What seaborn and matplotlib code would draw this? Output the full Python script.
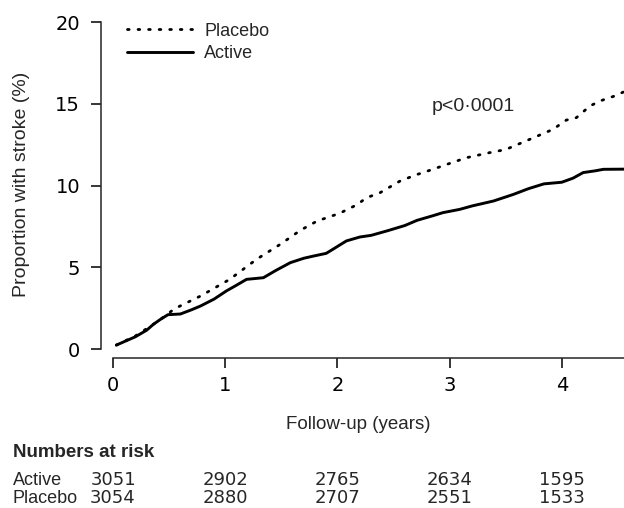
import matplotlib
matplotlib.use("Agg")
import matplotlib.pyplot as plt
import matplotlib.transforms as mtransforms
import seaborn as sns
import pandas as pd
from matplotlib.lines import Line2D

# curves (years, % with stroke)
active_t = [0.03, 0.10, 0.20, 0.30, 0.36, 0.42, 0.49, 0.60, 0.70, 0.78, 0.90, 1.01,
            1.10, 1.19, 1.34, 1.45, 1.58, 1.70, 1.79, 1.90, 1.96, 2.03, 2.08, 2.20,
            2.30, 2.44, 2.60, 2.71, 2.85, 2.94, 3.09, 3.20, 3.39, 3.50, 3.57, 3.70,
            3.84, 4.00, 4.10, 4.19, 4.30, 4.37, 4.56]
active_y = [0.24, 0.45, 0.75, 1.15, 1.51, 1.80, 2.10, 2.14, 2.40, 2.63, 3.05, 3.55,
            3.90, 4.26, 4.36, 4.80, 5.28, 5.55, 5.69, 5.85, 6.10, 6.40, 6.61, 6.85,
            6.95, 7.22, 7.55, 7.87, 8.15, 8.34, 8.54, 8.75, 9.05, 9.30, 9.46, 9.80,
            10.10, 10.20, 10.45, 10.79, 10.90, 10.99, 11.00]

placebo_t = [0.03, 0.20, 0.36, 0.45, 0.55, 0.78, 1.04, 1.28, 1.49, 1.67, 1.82, 2.02,
             2.17, 2.26, 2.38, 2.56, 2.70, 2.85, 3.00, 3.15, 3.35, 3.50, 3.74, 3.92,
             4.04, 4.13, 4.25, 4.34, 4.46, 4.56]
placebo_y = [0.24, 0.80, 1.51, 1.95, 2.47, 3.24, 4.26, 5.49, 6.40, 7.26, 7.83, 8.30,
             8.81, 9.25, 9.56, 10.28, 10.65, 10.99, 11.35, 11.70, 12.00, 12.20, 12.90, 13.43,
             14.00, 14.15, 14.86, 15.17, 15.45, 15.75]

# numbers at risk table
risk_years = [0, 1, 2, 3, 4]
risk_active = [3051, 2902, 2765, 2634, 1595]
risk_placebo = [3054, 2880, 2707, 2551, 1533]

active = pd.DataFrame({"t": active_t, "y": active_y})
placebo = pd.DataFrame({"t": placebo_t, "y": placebo_y})

sns.set_style("ticks")
plt.rcParams["font.family"] = ["DejaVu Sans"]
WORDS = ["Liberation Sans", "DejaVu Sans"]
DOTS = (0, (0.6, 3.2))

fig = plt.figure(figsize=(6.24, 5.08), dpi=100)
ax = fig.add_axes([101 / 624, 150 / 508, 523 / 624, 336 / 508])

sns.lineplot(data=placebo, x="t", y="y", ax=ax, color="black", lw=2.0,
             linestyle=DOTS, dash_capstyle="round", estimator=None, sort=False)
sns.lineplot(data=active, x="t", y="y", ax=ax, color="black", lw=2.1,
             estimator=None, sort=False)

ax.set_xlim(-0.107, 4.554)
ax.set_ylim(-0.55, 20)
ax.set_xticks(risk_years)
ax.set_yticks([0, 5, 10, 15, 20])
ax.spines["top"].set_visible(False)
ax.spines["right"].set_visible(False)
ax.spines["left"].set_bounds(0, 20)
ax.spines["bottom"].set_bounds(0, 4.554)
for s in ("left", "bottom"):
    ax.spines[s].set_linewidth(1.1)
ax.tick_params(length=7.5, width=1.1, labelsize=14, colors="black")
ax.tick_params(axis="x", pad=5.5)
ax.tick_params(axis="y", pad=7.5)

ax.set_xlabel("Follow-up (years)", fontsize=13.5, family=WORDS)
ax.set_ylabel("Proportion with stroke (%)", fontsize=14, family=WORDS)
ax.xaxis.set_label_coords((358 - 101) / 523, -0.172)
ax.yaxis.set_label_coords(-0.135, 0.518)

handles = [Line2D([], [], color="black", lw=2.0, linestyle=DOTS, dash_capstyle="round"),
           Line2D([], [], color="black", lw=2.1)]
ax.legend(handles, ["Placebo", "Active"], loc="upper left", bbox_to_anchor=(0.0187, 1.046),
          frameon=False, prop={"family": WORDS, "size": 13},
          handlelength=3.67, handletextpad=0.6, labelspacing=0.3)

ax.text(2.843, 14.56, "p<0\u00b70001", fontsize=14, family=WORDS, ha="left", va="baseline")

# numbers at risk
tr = mtransforms.blended_transform_factory(ax.transData, fig.transFigure)
fig.text(13 / 624, 1 - 457 / 508, "Numbers at risk", fontsize=13.5, fontweight="bold",
         family=WORDS, va="baseline")
for base_y, name, vals in [(485, "Active", risk_active), (503, "Placebo", risk_placebo)]:
    fig.text(13 / 624, 1 - base_y / 508, name, fontsize=13, family=WORDS, va="baseline")
    for yr, v in zip(risk_years, vals):
        ax.text(yr, 1 - base_y / 508, str(v), transform=tr, fontsize=13,
                ha="center", va="baseline", clip_on=False)

fig.savefig("out.png", dpi=100)
